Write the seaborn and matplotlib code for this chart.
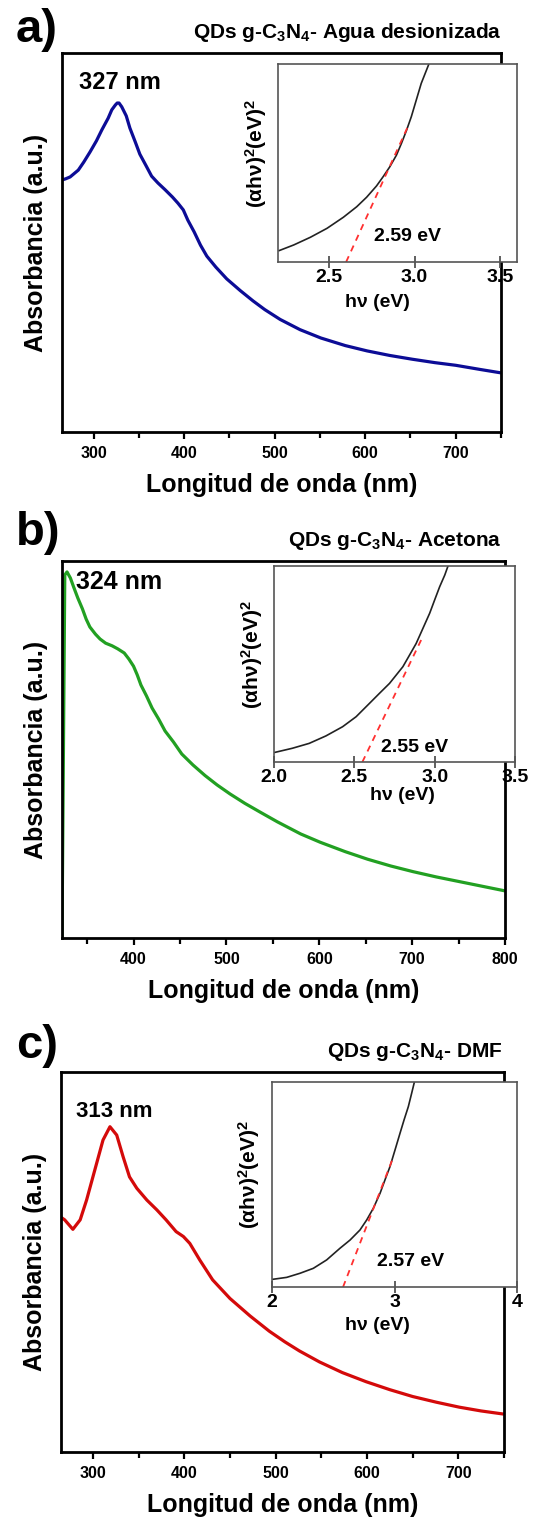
import numpy as np
import pandas as pd
import matplotlib
matplotlib.use("Agg")
import matplotlib.pyplot as plt
from matplotlib.ticker import MultipleLocator
import seaborn as sns

# ---------------- data ----------------
# Panel a: deionized water
wl_a = [265, 269, 274, 278, 283, 289, 296, 303, 309, 316, 320, 324, 326, 328, 331, 336, 340, 346, 351, 358,
        364, 371, 379, 387, 393, 399, 404, 411, 418, 425, 435, 447, 462, 476, 489, 506, 528, 551, 578, 602,
        627, 652, 677, 700, 727, 750]
abs_a = [0.665, 0.668, 0.673, 0.681, 0.691, 0.712, 0.739, 0.768, 0.797, 0.828, 0.850, 0.863, 0.868, 0.868,
         0.858, 0.834, 0.802, 0.765, 0.733, 0.702, 0.675, 0.657, 0.639, 0.620, 0.604, 0.586, 0.559, 0.528,
         0.493, 0.464, 0.435, 0.404, 0.373, 0.346, 0.323, 0.297, 0.270, 0.248, 0.228, 0.214, 0.202, 0.192,
         0.183, 0.176, 0.165, 0.156]
# Panel b: acetone
wl_b = [323, 326, 328.4, 332, 336, 340, 345, 349, 353, 359, 364, 370, 377, 383, 390, 395, 400, 404, 408, 414,
        420, 427, 434, 443, 452, 464, 477, 490, 504, 520, 537, 555, 580, 601, 628, 652, 677, 701, 726, 752,
        776, 800]
abs_b = [0.0, 0.963, 0.971, 0.955, 0.928, 0.902, 0.873, 0.846, 0.825, 0.806, 0.793, 0.782, 0.775, 0.767,
         0.756, 0.740, 0.721, 0.698, 0.671, 0.642, 0.610, 0.581, 0.549, 0.520, 0.488, 0.459, 0.431, 0.406,
         0.382, 0.357, 0.333, 0.308, 0.276, 0.254, 0.229, 0.209, 0.191, 0.176, 0.162, 0.149, 0.137, 0.125]
# Panel c: DMF
wl_c = [266, 269, 278, 286, 293, 302, 311, 318.6, 326, 333, 340, 348, 359, 370, 380, 391, 399, 406, 417,
        431, 450, 472, 493, 510, 526, 548, 573, 599, 625, 650, 676, 701, 725, 749]
abs_c = [0.616, 0.611, 0.586, 0.611, 0.663, 0.742, 0.821, 0.856, 0.834, 0.777, 0.724, 0.694, 0.663, 0.637,
         0.611, 0.580, 0.567, 0.549, 0.505, 0.453, 0.404, 0.358, 0.318, 0.290, 0.266, 0.237, 0.209, 0.185,
         0.164, 0.146, 0.131, 0.118, 0.108, 0.100]

# Tauc insets
hv_a = [2.205, 2.292, 2.39, 2.487, 2.583, 2.661, 2.719, 2.777, 2.816, 2.855, 2.894, 2.923, 2.952, 2.981,
        3.010, 3.039, 3.083]
tauc_a = [0.057, 0.086, 0.125, 0.170, 0.226, 0.279, 0.327, 0.384, 0.431, 0.481, 0.540, 0.599, 0.663, 0.734,
          0.818, 0.902, 0.998]
fit_hv_a = [2.599, 2.965]
fit_a = [0.0, 0.692]

hv_b = [2.0, 2.114, 2.219, 2.323, 2.427, 2.511, 2.594, 2.656, 2.719, 2.761, 2.802, 2.844, 2.885, 2.927,
        2.969, 3.0, 3.031, 3.063, 3.083]
tauc_b = [0.048, 0.070, 0.095, 0.133, 0.180, 0.231, 0.299, 0.350, 0.401, 0.444, 0.486, 0.546, 0.605, 0.682,
          0.759, 0.827, 0.894, 0.954, 1.0]
fit_hv_b = [2.55, 2.925]
fit_b = [0.0, 0.638]

hv_c = [2.0, 2.12, 2.229, 2.337, 2.446, 2.555, 2.637, 2.718, 2.773, 2.827, 2.882, 2.922, 2.963, 3.004,
        3.045, 3.078, 3.113, 3.14, 3.162]
tauc_c = [0.037, 0.047, 0.067, 0.091, 0.132, 0.189, 0.229, 0.278, 0.327, 0.384, 0.457, 0.522, 0.587, 0.668,
          0.750, 0.815, 0.880, 0.945, 0.999]
fit_hv_c = [2.58, 2.988]
fit_c = [0.0, 0.63]

gaps = ["2.59 eV", "2.55 eV", "2.57 eV"]
peaks = ["327 nm", "324 nm", "313 nm"]
letters = ["a)", "b)", "c)"]
titles = [r"QDs g-C$_3$N$_4$- Agua desionizada", r"QDs g-C$_3$N$_4$- Acetona", r"QDs g-C$_3$N$_4$- DMF"]
inset_ticks = [[2.5, 3.0, 3.5], [2.0, 2.5, 3.0, 3.5], [2, 3, 4]]
inset_ticklabels = [["2.5", "3.0", "3.5"], ["2.0", "2.5", "3.0", "3.5"], ["2", "3", "4"]]
inset_xlims = [(2.2, 3.6), (2.0, 3.5), (2.0, 4.0)]
main_xlims = [(265, 750), (323, 800), (265, 750)]
colors = ["#0c0c96", "#22a022", "#d40a0a"]

# ---------------- style ----------------
sns.set_style("white")
plt.rcParams['font.family'] = ['Liberation Sans', 'DejaVu Sans']
plt.rcParams['font.weight'] = 'bold'
plt.rcParams['text.color'] = 'black'
plt.rcParams['axes.labelcolor'] = 'black'
plt.rcParams['xtick.color'] = 'black'
plt.rcParams['ytick.color'] = 'black'
plt.rcParams['mathtext.fontset'] = 'custom'
plt.rcParams['mathtext.rm'] = 'Liberation Sans:bold'
plt.rcParams['mathtext.bf'] = 'Liberation Sans:bold'
plt.rcParams['mathtext.it'] = 'Liberation Sans:bold'
plt.rcParams['mathtext.default'] = 'bf'

W, H = 549, 1525
fig = plt.figure(figsize=(W / 100, H / 100), dpi=100)


def box(l, r, t, b):
    return [l / W, 1 - b / H, (r - l) / W, (b - t) / H]


main_boxes = [(62, 501, 53, 432), (62, 505, 561, 938), (61, 504, 1072, 1452)]
inset_boxes = [(278, 517, 64, 262), (274, 515, 566, 762), (272, 517, 1082, 1287)]
peak_pos = [(0.132, 0.921, 17), (0.129, 0.944, 18), (0.120, 0.895, 16)]
gap_pos = [(2.96, 0.13), (2.875, 0.075), (3.13, 0.125)]
title_y = [38, 546, 1057]
letter_y = [42, 545, 1058]
ylab_x = [-0.038, -0.037, -0.040]
xlab_x = [0.418, 0.535, 0.43]
xlab_y = [-0.16, -0.128, -0.146]

mains = [(wl_a, abs_a), (wl_b, abs_b), (wl_c, abs_c)]
insets = [(hv_a, tauc_a, fit_hv_a, fit_a), (hv_b, tauc_b, fit_hv_b, fit_b), (hv_c, tauc_c, fit_hv_c, fit_c)]

for i in range(3):
    ax = fig.add_axes(box(*main_boxes[i]))
    df = pd.DataFrame({"wl": mains[i][0], "A": mains[i][1]})
    sns.lineplot(data=df, x="wl", y="A", ax=ax, color=colors[i], linewidth=2.3,
                 estimator=None, sort=False, solid_joinstyle='round', solid_capstyle='round')
    ax.set_xlim(*main_xlims[i])
    ax.set_ylim(0, 1)
    ax.set_yticks([])
    ax.xaxis.set_major_locator(MultipleLocator(100))
    ax.xaxis.set_minor_locator(MultipleLocator(50))
    ax.tick_params(axis='x', which='major', direction='out', length=5, width=1.6,
                   labelsize=11.5, pad=5, color='black')
    ax.tick_params(axis='x', which='minor', direction='out', length=4, width=1.6, color='black')
    ax.tick_params(axis='x', which='both', bottom=True)
    for s in ax.spines.values():
        s.set_linewidth(2.0)
        s.set_color('black')
        s.set_visible(True)
    ax.set_xlabel("Longitud de onda (nm)", fontsize=18, fontweight='bold', labelpad=9)
    ax.set_ylabel("Absorbancia (a.u.)", fontsize=18, fontweight='bold', labelpad=10)
    px, py, fs = peak_pos[i]
    ax.text(px, py, peaks[i], transform=ax.transAxes, ha='center', va='center',
            fontsize=fs, fontweight='bold')

    # inset
    ia = fig.add_axes(box(*inset_boxes[i]))
    hv, ty, fhv, fy = insets[i]
    dfi = pd.DataFrame({"hv": hv, "t": ty})
    sns.lineplot(data=dfi, x="hv", y="t", ax=ia, color='#222222', linewidth=1.2,
                 estimator=None, sort=False, solid_joinstyle='round')
    dff = pd.DataFrame({"hv": fhv, "t": fy})
    sns.lineplot(data=dff, x="hv", y="t", ax=ia, color='#ff3030', linewidth=1.3,
                 linestyle=(0, (3.5, 3)), estimator=None, sort=False)
    ia.set_xlim(*inset_xlims[i])
    ia.set_ylim(0, 1)
    ia.set_yticks([])
    ia.set_xticks(inset_ticks[i])
    ia.set_xticklabels(inset_ticklabels[i])
    ia.tick_params(axis='x', direction='inout', length=8, width=1.2, color='#444444',
                   labelsize=14, pad=1, bottom=True)
    for s in ia.spines.values():
        s.set_linewidth(1.2)
        s.set_color('#555555')
        s.set_visible(True)
    ia.set_xlabel("hν (eV)", fontsize=14, fontweight='bold', labelpad=0)
    ia.xaxis.set_label_coords(xlab_x[i], xlab_y[i])
    ia.set_ylabel("(αhν)$^2$(eV)$^2$", fontsize=15, fontweight='bold')
    ia.yaxis.set_label_coords(ylab_x[i], 0.55)
    gx, gy = gap_pos[i]
    ia.text(gx, gy, gaps[i], ha='center', va='center', fontsize=14, fontweight='bold')

    fig.text(502 / W, 1 - title_y[i] / H, titles[i], ha='right', va='baseline',
             fontsize=15, fontweight='bold')
    fig.text(16 / W, 1 - letter_y[i] / H, letters[i], ha='left', va='baseline',
             fontsize=34, fontweight='bold')

fig.savefig("out.png", dpi=100)
